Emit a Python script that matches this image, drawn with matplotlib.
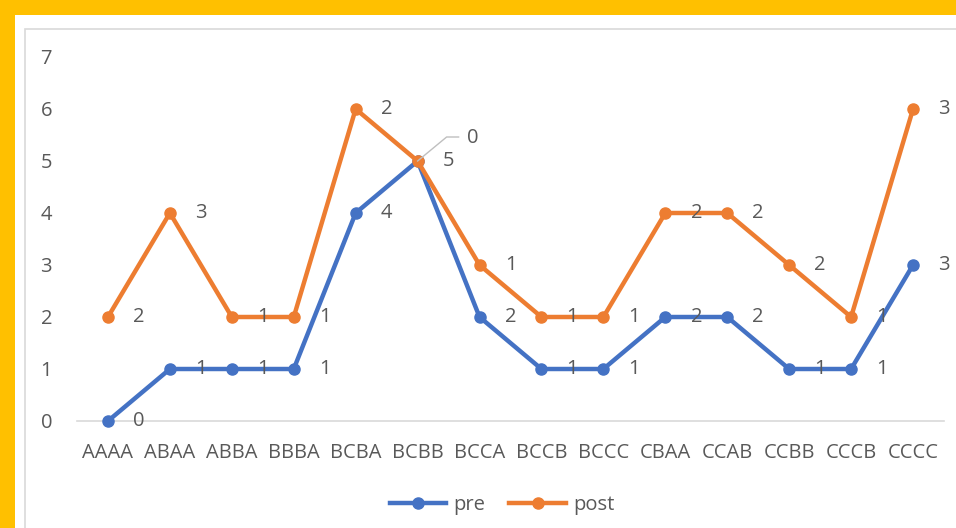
import numpy as np
import matplotlib.pyplot as plt
from matplotlib.patches import Rectangle

categories = ["AAAA", "ABAA", "ABBA", "BBBA", "BCBA", "BCBB", "BCCA",
              "BCCB", "BCCC", "CBAA", "CCAB", "CCBB", "CCCB", "CCCC"]
pre = [0, 1, 1, 1, 4, 5, 2, 1, 1, 2, 2, 1, 1, 3]
post = [2, 3, 1, 1, 2, 0, 1, 1, 1, 2, 2, 2, 1, 3]

BLUE = "#4472C4"
ORANGE = "#ED7D31"
GOLD = "#FFC000"
TXT = "#595959"
FS = 14.5

plt.rcParams['font.family'] = ['Open Sans', 'DejaVu Sans']
plt.rcParams['font.size'] = FS

W, H = 956, 528
fig = plt.figure(figsize=(W / 100, H / 100), dpi=100, facecolor="white")

# yellow frame (top and left) and grey chart border
fig.patches.append(Rectangle((0, 1 - 15 / H), 1, 15 / H, transform=fig.transFigure,
                             facecolor=GOLD, edgecolor="none", zorder=0))
fig.patches.append(Rectangle((0, 0), 15 / W, 1, transform=fig.transFigure,
                             facecolor=GOLD, edgecolor="none", zorder=0))
fig.patches.append(Rectangle((25 / W, -0.1), 1.1, (H - 29) / H + 0.1, transform=fig.transFigure,
                             facecolor="none", edgecolor="#D9D9D9", lw=1.2, zorder=0))

ax = fig.add_axes([77 / W, (H - 421) / H, (944 - 77) / W, (421 - 57) / H])
ax.set_facecolor("none")

x = np.arange(len(categories))
pre_arr = np.array(pre)
post_top = pre_arr + np.array(post)  # stacked line

ax.plot(x, pre_arr, color=BLUE, lw=3.2, marker="o", ms=8, label="pre", zorder=2, clip_on=False)
ax.plot(x, post_top, color=ORANGE, lw=3.2, marker="o", ms=8, label="post", zorder=3, clip_on=False)

ax.set_xlim(-0.5, len(categories) - 0.5)
ax.set_ylim(0, 7)
ax.set_yticks(range(8))
ax.set_xticks(x)
ax.set_xticklabels(categories)
ax.tick_params(axis="both", length=0, colors=TXT, labelsize=FS)
ax.tick_params(axis="y", pad=18)
ax.tick_params(axis="x", pad=16)
for s in ["top", "right", "left"]:
    ax.spines[s].set_visible(False)
ax.spines["bottom"].set_color("#D9D9D9")
ax.spines["bottom"].set_linewidth(1.2)
ax.spines["bottom"].set_zorder(1)

for i in range(len(categories)):
    ax.annotate(str(pre[i]), (x[i], pre_arr[i]), xytext=(31, 0), textcoords="offset pixels",
                ha="center", va="center", color=TXT, fontsize=FS, zorder=5)
    if i == 5:
        # label moved up with a leader line
        ax.annotate(str(post[i]), (x[i], post_top[i]), xytext=(55, 23), textcoords="offset pixels",
                    ha="center", va="center", color=TXT, fontsize=FS, zorder=5)
        p0 = ax.transData.transform((x[i], post_top[i]))
        pts = np.array([p0, p0 + [29, 24], p0 + [41, 24]])
        ax.plot(*ax.transData.inverted().transform(pts).T, color="#BFBFBF", lw=1, zorder=4)
    else:
        ax.annotate(str(post[i]), (x[i], post_top[i]), xytext=(31, 0), textcoords="offset pixels",
                    ha="center", va="center", color=TXT, fontsize=FS, zorder=5)

fig.legend(loc="center", bbox_to_anchor=(502 / W, 23 / H), ncol=2, frameon=False,
           handlelength=2.8, columnspacing=1.2, handletextpad=0.35,
           labelcolor=TXT, fontsize=FS)

fig.savefig("out.png", dpi=100, facecolor="white")
